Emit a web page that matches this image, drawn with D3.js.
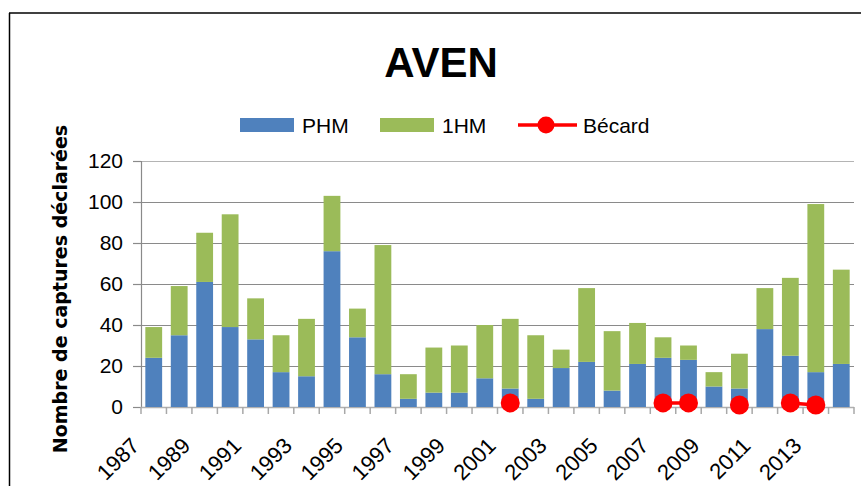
<!DOCTYPE html>
<html lang="fr">
<head>
<meta charset="utf-8">
<title>AVEN</title>
<script src="https://d3js.org/d3.v7.min.js"></script>
<style>
  body { margin: 0; background: #fff; }
  text { font-family: "Liberation Sans", Arial, sans-serif; }
</style>
</head>
<body>
<div id="chart"></div>
<script>
// data
var years = d3.range(1987, 2015)
var phm = [24, 35, 61, 39, 33, 17, 15, 76, 34, 16, 4, 7, 7, 14, 9, 4, 19, 22, 8, 21, 24, 23, 10, 9, 38, 25, 17, 21]
var hm1 = [15, 24, 24, 55, 20, 18, 28, 27, 14, 63, 12, 22, 23, 26, 34, 31, 9, 36, 29, 20, 10, 7, 7, 17, 20, 38, 82, 46]
var becard = [null, null, null, null, null, null, null, null, null, null, null, null, null, null,
              2, null, null, null, null, null, 2, 2, null, 1, null, 2, 1, null]
var yTicks = [0, 20, 40, 60, 80, 100, 120]
var xLabels = years.filter(function(y) { return (y - 1987) % 2 == 0 })

var width = 861, height = 486
var plot = {left: 141, right: 854, top: 161, bottom: 407}

var svg = d3.select("#chart").append("svg")
  .attr("width", width)
  .attr("height", height)

svg.append("rect").attr("width", width).attr("height", height).attr("fill", "#fff")

// outer frame (only top and left are visible)
svg.append("line").attr("x1", 9).attr("x2", width).attr("y1", 13).attr("y2", 13)
  .attr("stroke", "#404040").attr("stroke-width", 2)
svg.append("line").attr("x1", 9.5).attr("x2", 9.5).attr("y1", 13).attr("y2", height)
  .attr("stroke", "#000").attr("stroke-width", 1.5)

var x = d3.scaleBand()
  .domain(years)
  .range([plot.left, plot.right])
  .paddingInner(0.34)
  .paddingOuter(0.17)

var y = d3.scaleLinear()
  .domain([0, 120])
  .range([plot.bottom, plot.top])

// gridlines
svg.append("g")
  .selectAll("line")
  .data(yTicks.slice(1))
  .enter().append("line")
    .attr("x1", plot.left).attr("x2", plot.right)
    .attr("y1", function(d) { return Math.round(y(d)) + 0.5 })
    .attr("y2", function(d) { return Math.round(y(d)) + 0.5 })
    .attr("stroke", function(d) { return d == 120 ? "#b4b4b4" : "#8a8a8a" })
    .attr("stroke-width", 1.2)

// y axis
var yAxis = svg.append("g")
  .attr("transform", "translate(" + plot.left + ",0)")
  .call(d3.axisLeft(y).tickValues(yTicks).tickSize(8).tickPadding(10))
yAxis.select(".domain").attr("stroke", "#8a8a8a").attr("stroke-width", 1.2)
yAxis.selectAll(".tick line").attr("stroke", "#8a8a8a").attr("stroke-width", 1.2)
yAxis.selectAll("text")
  .attr("font-size", 21)
  .attr("fill", "#000")
  .style("font-family", "'Liberation Sans', Arial, sans-serif")

// x axis baseline and category ticks
var step = x.step()
var bounds = d3.range(years.length + 1).map(function(i) { return plot.left + i * step })
svg.append("line")
  .attr("x1", plot.left).attr("x2", plot.right)
  .attr("y1", plot.bottom + 0.5).attr("y2", plot.bottom + 0.5)
  .attr("stroke", "#b0b0b0").attr("stroke-width", 1.5)
svg.append("g").selectAll("line")
  .data(bounds)
  .enter().append("line")
    .attr("x1", function(d) { return d }).attr("x2", function(d) { return d })
    .attr("y1", plot.bottom).attr("y2", plot.bottom + 7)
    .attr("stroke", "#a8a8a8").attr("stroke-width", 1.5)

// stacked bars
var rows = years.map(function(yr, i) { return {year: yr, PHM: phm[i], HM1: hm1[i]} })
var stack = d3.stack().keys(["PHM", "HM1"])(rows)
var color = d3.scaleOrdinal().domain(["PHM", "HM1"]).range(["#4f81bd", "#9bbb59"])

svg.append("g")
  .selectAll("g")
  .data(stack)
  .enter().append("g")
    .attr("fill", function(d) { return color(d.key) })
  .selectAll("rect")
  .data(function(d) { return d })
  .enter().append("rect")
    .attr("x", function(d) { return x(d.data.year) })
    .attr("width", x.bandwidth())
    .attr("y", function(d) { return y(d[1]) })
    .attr("height", function(d) { return y(d[0]) - y(d[1]) })

// Bécard line + markers
var becPts = years.map(function(yr, i) { return {year: yr, v: becard[i]} })
var line = d3.line()
  .defined(function(d) { return d.v != null })
  .x(function(d) { return x(d.year) + x.bandwidth() / 2 })
  .y(function(d) { return y(d.v) })
svg.append("path")
  .datum(becPts)
  .attr("d", line)
  .attr("fill", "none")
  .attr("stroke", "#ff0000")
  .attr("stroke-width", 3.5)
svg.append("g").selectAll("circle")
  .data(becPts.filter(function(d) { return d.v != null }))
  .enter().append("circle")
    .attr("cx", function(d) { return x(d.year) + x.bandwidth() / 2 })
    .attr("cy", function(d) { return y(d.v) })
    .attr("r", 9.5)
    .attr("fill", "#ff0000")

// x labels, rotated
svg.append("g").selectAll("text")
  .data(xLabels)
  .enter().append("text")
    .attr("text-anchor", "end")
    .attr("font-size", 22)
    .attr("transform", function(d) {
      var cx = x(d) + x.bandwidth() / 2
      return "translate(" + (cx - 13) + "," + 447 + ") rotate(-45)"
    })
    .text(function(d) { return d })

// title
svg.append("text")
  .attr("x", 441).attr("y", 77)
  .attr("text-anchor", "middle")
  .attr("font-size", 42)
  .attr("font-weight", "bold")
  .text("AVEN")

// y axis title
svg.append("text")
  .attr("transform", "translate(67,289) rotate(-90)")
  .attr("text-anchor", "middle")
  .attr("font-size", 19)
  .attr("font-weight", "bold")
  .style("font-family", "'DejaVu Sans', Verdana, sans-serif")
  .text("Nombre de captures déclarées")

// legend
var legend = svg.append("g")
legend.append("rect").attr("x", 240).attr("y", 118).attr("width", 54).attr("height", 14).attr("fill", color("PHM"))
legend.append("text").attr("x", 302).attr("y", 133).attr("font-size", 21).text("PHM")
legend.append("rect").attr("x", 380).attr("y", 118).attr("width", 54).attr("height", 14).attr("fill", color("HM1"))
legend.append("text").attr("x", 442).attr("y", 133).attr("font-size", 21).text("1HM")
legend.append("line").attr("x1", 518).attr("x2", 577).attr("y1", 125).attr("y2", 125)
  .attr("stroke", "#ff0000").attr("stroke-width", 3.5)
legend.append("circle").attr("cx", 546).attr("cy", 125).attr("r", 8.5).attr("fill", "#ff0000")
legend.append("text").attr("x", 583).attr("y", 133).attr("font-size", 21).text("Bécard")
</script>
</body>
</html>
